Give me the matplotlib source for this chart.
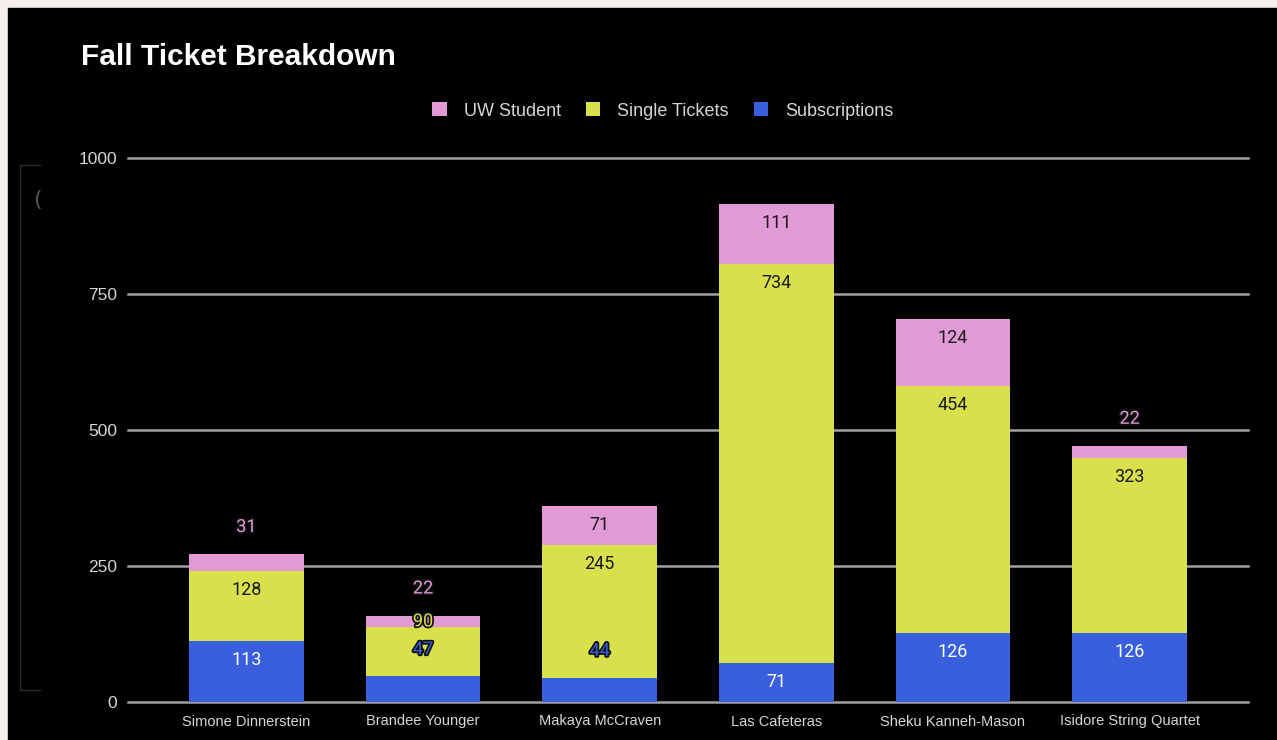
import matplotlib.pyplot as plt
import matplotlib.patheffects as pe
from matplotlib.patches import Rectangle
from matplotlib.lines import Line2D
import numpy as np

# ticket counts per show
shows = ["Simone Dinnerstein", "Brandee Younger", "Makaya McCraven",
         "Las Cafeteras", "Sheku Kanneh-Mason", "Isidore String Quartet"]
subscriptions = [113, 47, 44, 71, 126, 126]
single_tickets = [128, 90, 245, 734, 454, 323]
uw_student = [31, 22, 71, 111, 124, 22]
yticks = [0, 250, 500, 750, 1000]

blue = "#3a5fdc"
yellow = "#d8e04c"
pink = "#e29ad6"

fig = plt.figure(figsize=(12.77, 7.40), dpi=100, facecolor="#f3f0ec")
fig.patches.append(Rectangle((8 / 1277, 0), 1, (740 - 8) / 740,
                             transform=fig.transFigure, color="black", zorder=-5))

# faint frame remnant on the left side
for xs, ys in [([20, 20], [165, 690]), ([20, 40], [165, 165]), ([20, 40], [690, 690])]:
    fig.add_artist(Line2D([x / 1277 for x in xs], [1 - y / 740 for y in ys],
                          color="#2a2a2a", lw=1))
fig.text(37 / 1277, 1 - 200 / 740, "(", color="#555555", fontsize=16,
         ha="center", va="center", family="DejaVu Sans")

ax = fig.add_axes([128 / 1277, 38 / 740, (1248 - 128) / 1277, (702 - 158) / 740])
ax.set_facecolor("black")

x = np.arange(len(shows))
width = 0.65
series = [("Subscriptions", subscriptions, blue, "white"),
          ("Single Tickets", single_tickets, yellow, "#1a1a1a"),
          ("UW Student", uw_student, pink, "#1a1a1a")]

bottom = np.zeros(len(shows))
handles = {}
segments = []
for name, vals, col, txtcol in series:
    vals = np.array(vals, dtype=float)
    bars = ax.bar(x, vals, width, bottom=bottom, color=col, zorder=3, linewidth=0)
    handles[name] = bars
    for i in range(len(shows)):
        segments.append((i, bottom[i] + vals[i], vals[i], col, txtcol))
    bottom = bottom + vals

ax.set_xlim(-0.67, len(shows) - 1 + 0.67)
ax.set_ylim(0, 1000)
for t in yticks:
    ax.axhline(t, color="#a0a0a0", lw=1.8, zorder=1, clip_on=False)

ax.set_yticks(yticks)
ax.set_xticks(x)
ax.set_xticklabels(shows, fontsize=10.5, color="#d6d6d6", family="Liberation Sans")
ax.set_yticklabels([str(t) for t in yticks], fontsize=12.5, color="#d6d6d6",
                   family="Liberation Sans")
ax.tick_params(length=0)
ax.tick_params(axis="y", pad=8)
ax.tick_params(axis="x", pad=9)
for s in ax.spines.values():
    s.set_visible(False)

# segment value labels: inside near the top, or lifted above when the segment is thin
px_per_unit = (702 - 158) / 1000
placed = {}
for i, top, h, col, txtcol in segments:
    top_px = top * px_per_unit
    if h * px_per_unit < 30:
        y_px = top_px + 27
        outside = True
    else:
        y_px = top_px - 19
        outside = False
        prev = placed.get(i)
        if prev is not None and abs(y_px - prev) < 20:
            y_px = prev + 28
            outside = True
    placed[i] = y_px
    if outside:
        kw = dict(color=col,
                  path_effects=[pe.withStroke(linewidth=2.5, foreground="#111111")])
    else:
        kw = dict(color=txtcol)
    ax.text(i, y_px / px_per_unit, f"{int(h)}", ha="center", va="center",
            fontsize=13, family="Roboto", zorder=5, **kw)

fig.text(81 / 1277, 1 - 57 / 740, "Fall Ticket Breakdown", fontsize=21.5,
         fontweight="bold", color="white", family="Liberation Sans", va="center")

leg = fig.legend([handles["UW Student"], handles["Single Tickets"], handles["Subscriptions"]],
                 ["UW Student", "Single Tickets", "Subscriptions"],
                 loc="center", bbox_to_anchor=(663 / 1277, 1 - 111 / 740), ncol=3,
                 frameon=False, handlelength=0.78, handleheight=0.78,
                 handletextpad=0.95, columnspacing=1.4,
                 prop={"family": "Liberation Sans", "size": 13})
for t in leg.get_texts():
    t.set_color("#d6d6d6")

fig.savefig("out.png", dpi=100, facecolor=fig.get_facecolor())
